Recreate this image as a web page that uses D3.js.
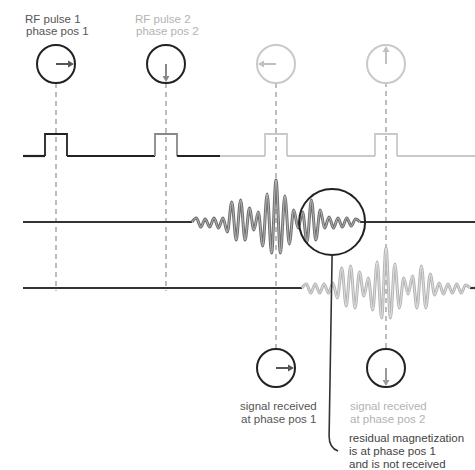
<!DOCTYPE html>
<html><head><meta charset="utf-8">
<script src="https://cdn.jsdelivr.net/npm/d3@7"></script>
<style>
body{margin:0;background:#fff}
svg{display:block}
text{font-family:"Liberation Sans",Arial,Helvetica,sans-serif;font-size:11.5px}
</style>
</head><body>
<script>
// ---- data ----
const pulseTimes = [1, 2, 3, 4];
const pulsePhases = ["right", "down", "left", "up"];
const pulseShades = ["dark", "mid", "light", "light"];
const topLabels = [["RF pulse 1", "phase pos 1"], ["RF pulse 2", "phase pos 2"]];
const topLabelShades = ["dark", "light"];
const echoCenters = [3, 4];
// signed extrema of each echo (+ = up), one value per half-cycle
const echo1 = [0, 4, -5, 3, -5, 4, -6, 4, -10, 20, -18, 22, -18, 14, -8, 10, -24, 28, -31, 42,
               -31, 26, -22, 12, -6, 10, -20, 22, -18, 12, -6, 5, -6, 4, -5, 4, -4, 3, 0];
const echo2 = [0, 4, -5, 4, -5, 4, -5, 5, -10, 20, -18, 22, -20, 16, -8, 10, -22, 26, -30, 40,
               -30, 24, -20, 10, -6, 12, -20, 22, -20, 14, -7, 5, -6, 4, -5, 4, -5, 3, 0];
const echoShades = ["dark", "light"];
const receivePhases = ["right", "down"];
const receiveLabels = [["signal received", "at phase pos 1"], ["signal received", "at phase pos 2"]];
const receiveShades = ["dark", "light"];
const noteLabels = ["residual magnetization", "is at phase pos 1", "and is not received"];
const residualTime = 3.51;

// ---- layout ----
const W = 475, H = 470;
const svg = d3.select("body").append("svg").attr("width", W).attr("height", H);
const x = d3.scaleLinear().domain([1, 4]).range([56, 386]);
const tStart = x.invert(23), tEnd = x.invert(W), tSwitch = x.invert(220);
const rowY = {phase: 64, pulse: 156, sig1: 222, sig2: 288, recv: 368};
const yPulse = d3.scaleLinear().domain([0, 1]).range([rowY.pulse, rowY.pulse - 22]);
const amp = d3.scaleLinear().domain([-40, 40]).range([40, -40]);
const R = 19;
const pulseHalf = 0.1, echoHalf = 0.764;
const col = {dark: "#222", mid: "#888", light: "#c9c9c9"};
const textCol = {dark: "#555", light: "#b3b3b3"};
const arrowCol = {dark: "#555", mid: "#888", light: "#c0c0c0"};
const dashCol = "#adadad";

const line = d3.line().x(d => x(d[0])).y(d => d[1]);

// dashed guide lines
pulseTimes.forEach((t, i) => {
  const y0 = pulsePhases[i] === "up" ? rowY.phase : rowY.phase + R;
  const y1 = i < 2 ? rowY.sig2 + 3 : rowY.recv - R;
  svg.append("line").attr("x1", x(t)).attr("x2", x(t)).attr("y1", y0).attr("y2", y1)
    .attr("stroke", dashCol).attr("stroke-width", 1.6).attr("stroke-dasharray", "5,4");
});

// arrow helper
const dirs = {right: [1, 0], left: [-1, 0], up: [0, -1], down: [0, 1]};
function phaseCircle(cx, cy, dir, circleColor, arrColor) {
  svg.append("circle").attr("cx", cx).attr("cy", cy).attr("r", R)
    .attr("fill", "#fff").attr("stroke", circleColor).attr("stroke-width", 2);
  const [dx, dy] = dirs[dir];
  const L = R - 1, hl = 6, hw = 3.5;
  const ex = cx + dx * L, ey = cy + dy * L;
  svg.append("line").attr("x1", cx).attr("y1", cy).attr("x2", ex - dx * hl).attr("y2", ey - dy * hl)
    .attr("stroke", arrColor).attr("stroke-width", 2);
  const px = -dy, py = dx;
  svg.append("path")
    .attr("d", `M${ex},${ey}L${ex - dx * hl + px * hw},${ey - dy * hl + py * hw}L${ex - dx * hl - px * hw},${ey - dy * hl - py * hw}Z`)
    .attr("fill", arrColor);
}

// top phase circles
pulseTimes.forEach((t, i) => {
  const shade = pulseShades[i];
  phaseCircle(x(t), rowY.phase, pulsePhases[i], shade === "light" ? col.light : col.dark, arrowCol[shade]);
});

// top labels
topLabels.forEach((lines, i) => {
  const g = svg.append("text").attr("fill", textCol[topLabelShades[i]]);
  lines.forEach((s, j) => g.append("tspan").attr("x", x(pulseTimes[i]) - 31 + j).attr("y", 22.5 + j * 12.5).text(s));
});

// pulse track
const segColor = t => t < tSwitch ? col.dark : col.light;
let prev = tStart;
pulseTimes.forEach((t, i) => {
  const a = t - pulseHalf, b = t + pulseHalf;
  // baseline segment(s) before pulse, split at colour switch
  const pts = [prev, a];
  if (prev < tSwitch && a > tSwitch) {
    svg.append("path").attr("d", line([[prev, yPulse(0)], [tSwitch, yPulse(0)]])).attr("fill", "none").attr("stroke", col.dark).attr("stroke-width", 2.2);
    svg.append("path").attr("d", line([[tSwitch, yPulse(0)], [a, yPulse(0)]])).attr("fill", "none").attr("stroke", col.light).attr("stroke-width", 2.2);
  } else {
    svg.append("path").attr("d", line([[prev, yPulse(0)], [a, yPulse(0)]])).attr("fill", "none").attr("stroke", segColor(prev)).attr("stroke-width", 2.2);
  }
  svg.append("path").attr("d", line([[a, yPulse(0)], [a, yPulse(1)], [b, yPulse(1)], [b, yPulse(0)]]))
    .attr("fill", "none").attr("stroke", col[pulseShades[i]]).attr("stroke-width", 1.8);
  prev = b;
});
// tail after last pulse, split at switch if needed
if (prev < tSwitch) {
  svg.append("path").attr("d", line([[prev, yPulse(0)], [tSwitch, yPulse(0)]])).attr("fill", "none").attr("stroke", col.dark).attr("stroke-width", 2.2);
  svg.append("path").attr("d", line([[tSwitch, yPulse(0)], [tEnd, yPulse(0)]])).attr("fill", "none").attr("stroke", col.light).attr("stroke-width", 2.2);
} else {
  svg.append("path").attr("d", line([[prev, yPulse(0)], [tEnd, yPulse(0)]])).attr("fill", "none").attr("stroke", col.light).attr("stroke-width", 2.2);
}

// signal tracks
const echoes = [echo1, echo2];
const rows = [rowY.sig1, rowY.sig2];
const echoStroke = {dark: ["#6e6e6e", "#bdbdbd"], light: ["#b4b4b4", "#e4e4e4"]};
const wave = d3.line().x(d => x(d[0])).y(d => d[1]).curve(d3.curveMonotoneX);
echoes.forEach((vals, k) => {
  const c = echoCenters[k], y0 = rows[k];
  const t0 = c - echoHalf, t1 = c + echoHalf;
  const tt = d3.scaleLinear().domain([0, vals.length - 1]).range([t0, t1]);
  svg.append("path").attr("d", line([[tStart, y0], [t0, y0]])).attr("stroke", "#333").attr("stroke-width", 2.2).attr("fill", "none");
  if (t1 < tEnd) svg.append("path").attr("d", line([[t1, y0], [tEnd, y0]])).attr("stroke", "#333").attr("stroke-width", 2.2).attr("fill", "none");
  const pts = vals.map((v, i) => [tt(i), y0 + amp(v)]);
  const [outer, inner] = echoStroke[echoShades[k]];
  svg.append("path").attr("d", wave(pts)).attr("fill", "none").attr("stroke", outer).attr("stroke-width", 3);
  svg.append("path").attr("d", wave(pts)).attr("fill", "none").attr("stroke", inner).attr("stroke-width", 0.9);
});

// residual magnetization circle + bracket
const rx = x(residualTime), rcy = rowY.sig1, RR = 33;
svg.append("circle").attr("cx", rx).attr("cy", rcy).attr("r", RR).attr("fill", "none").attr("stroke", "#222").attr("stroke-width", 2);
svg.append("path").attr("d", `M${rx},${rcy + RR}L${rx - 3},${436}Q${rx - 3},${448} ${rx + 6},${451}`)
  .attr("fill", "none").attr("stroke", "#333").attr("stroke-width", 1.6);

// receive circles
echoCenters.forEach((t, k) => {
  phaseCircle(x(t), rowY.recv, receivePhases[k], col.dark, receiveShades[k] === "dark" ? arrowCol.dark : "#999");
  const g = svg.append("text").attr("fill", textCol[receiveShades[k]]);
  receiveLabels[k].forEach((s, j) => g.append("tspan").attr("x", x(t) - 36 + (k === 0 ? j : 0)).attr("y", 410 + j * 13).text(s));
});

// note
const ng = svg.append("text").attr("fill", "#444");
noteLabels.forEach((s, j) => ng.append("tspan").attr("x", x(4) - 37).attr("y", 442 + j * 13).text(s));
</script>
</body></html>
